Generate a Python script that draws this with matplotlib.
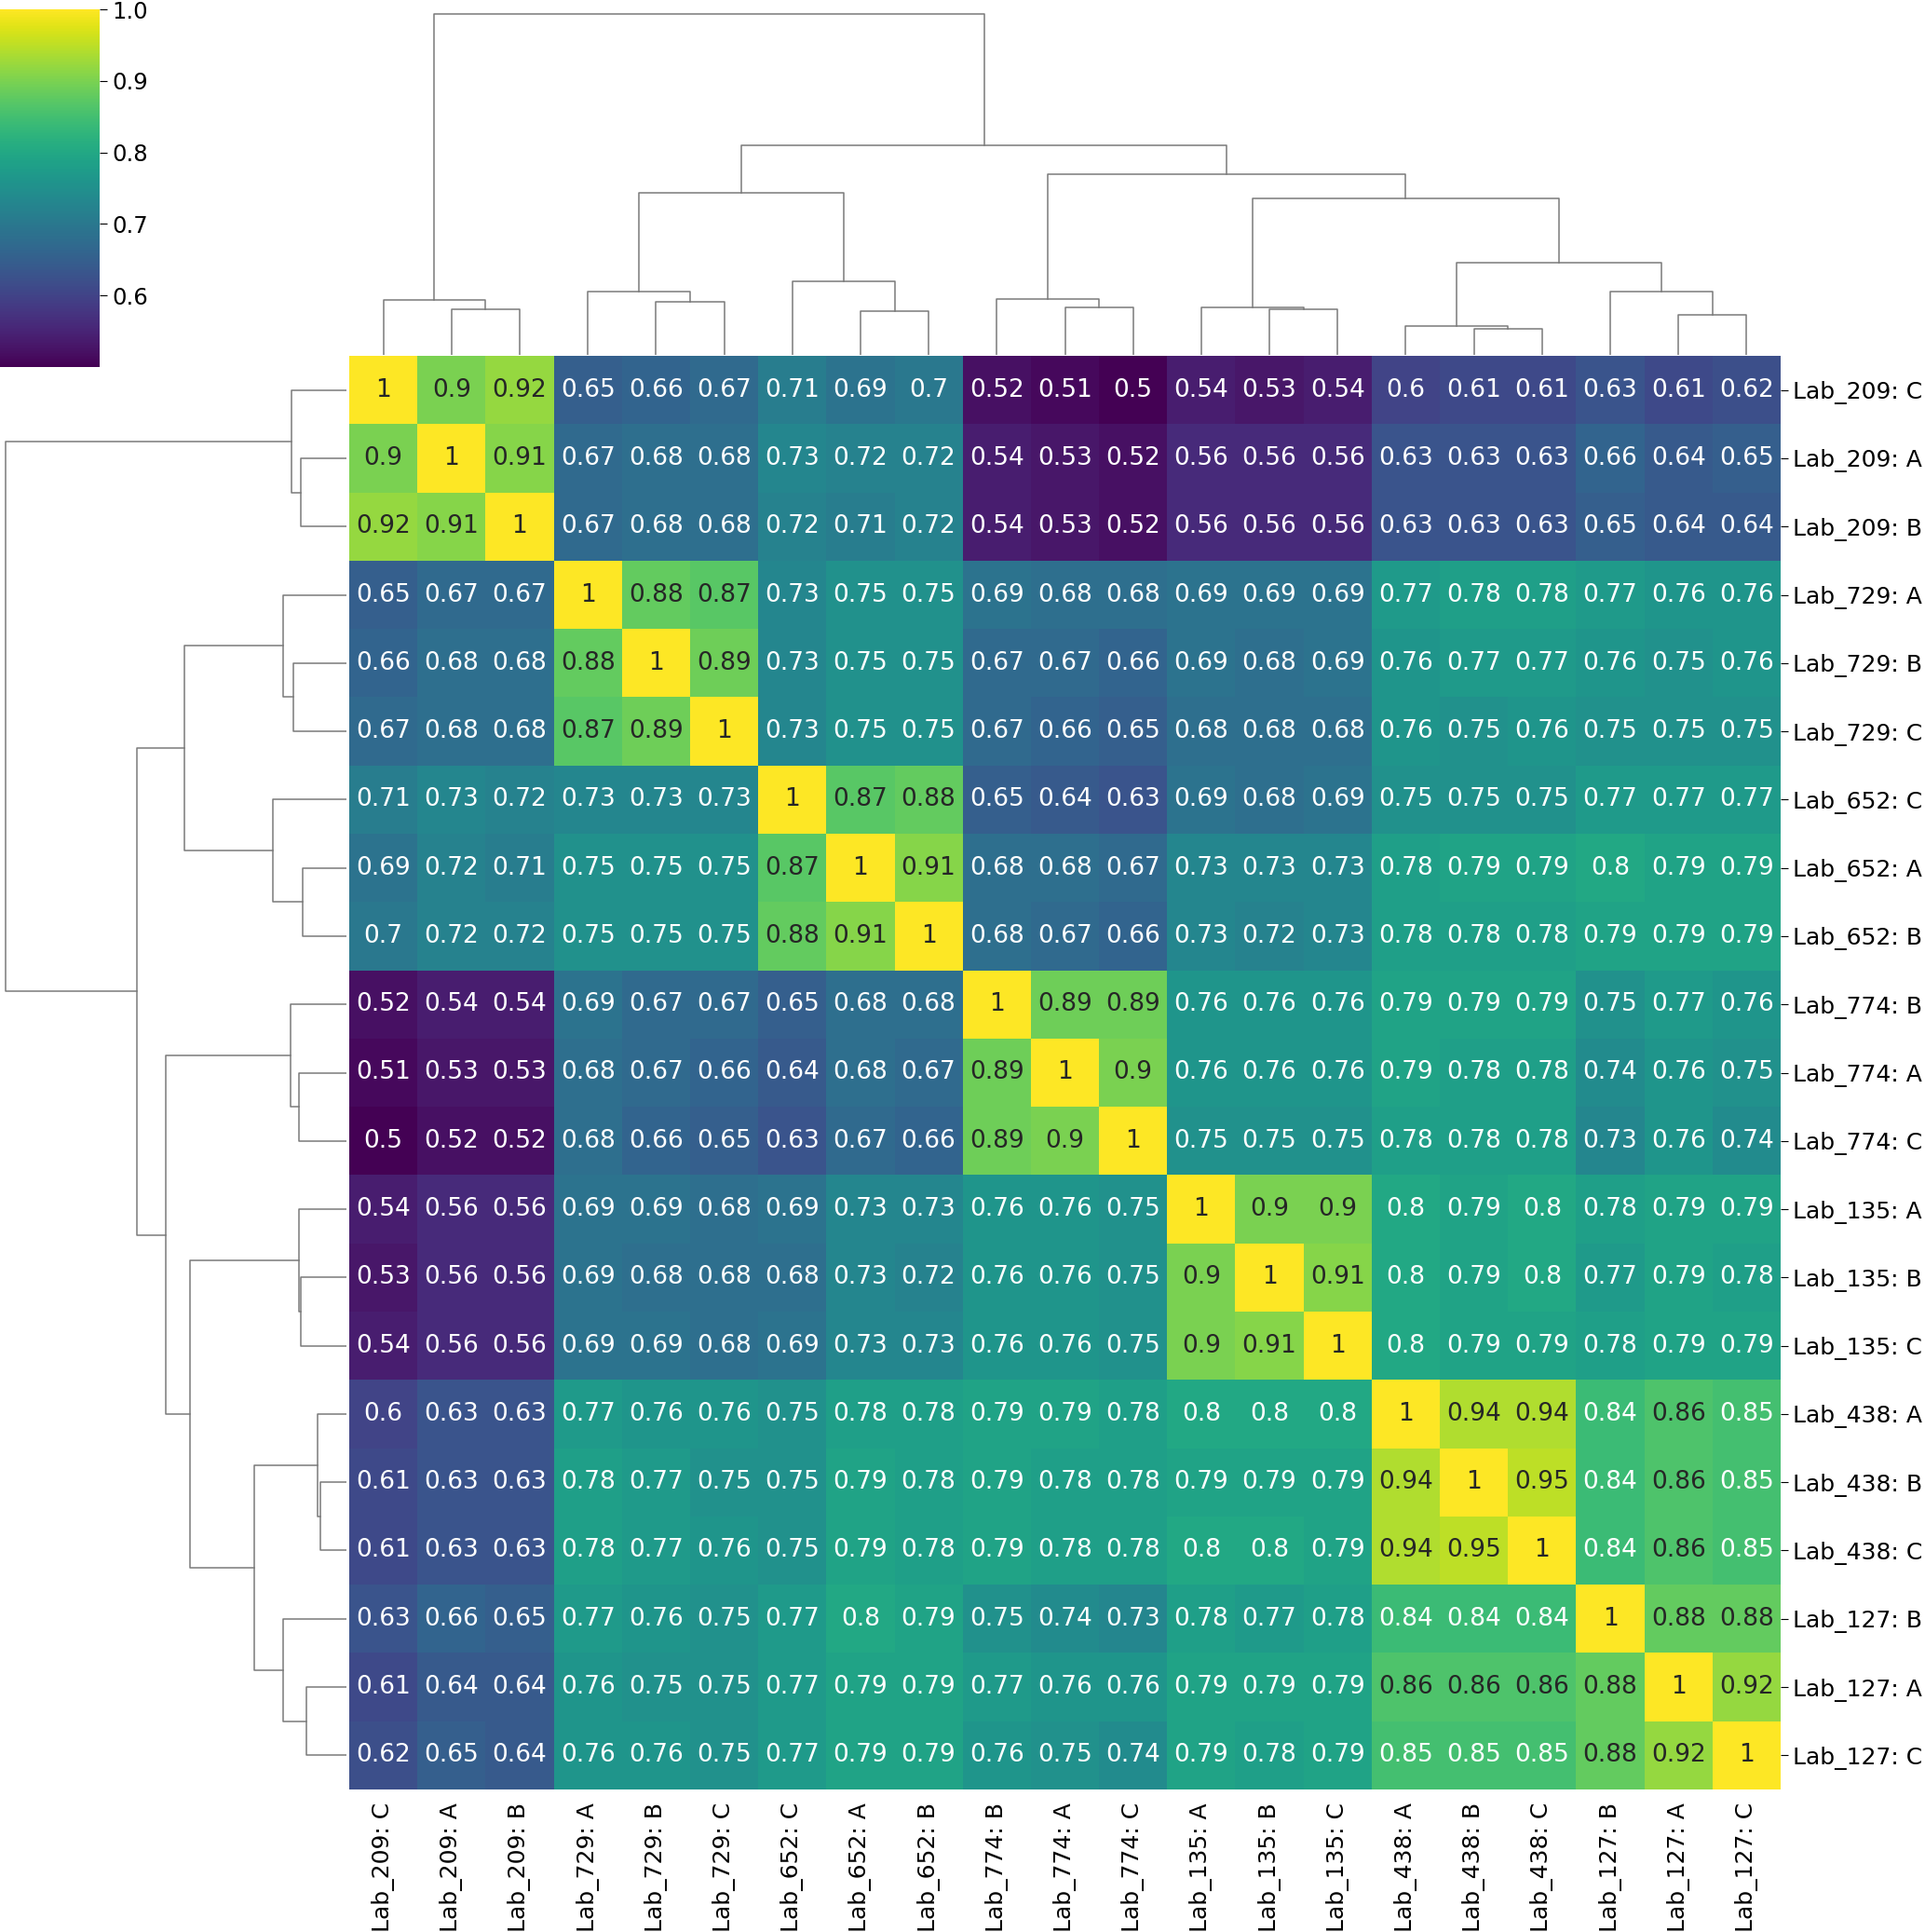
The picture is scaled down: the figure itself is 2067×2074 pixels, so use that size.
import numpy as np
import matplotlib
matplotlib.use("Agg")
import matplotlib.pyplot as plt
from matplotlib.colors import Normalize, to_rgb

# data --------------------------------------------------------------------------
labels = ["Lab_209: C", "Lab_209: A", "Lab_209: B",
          "Lab_729: A", "Lab_729: B", "Lab_729: C",
          "Lab_652: C", "Lab_652: A", "Lab_652: B",
          "Lab_774: B", "Lab_774: A", "Lab_774: C",
          "Lab_135: A", "Lab_135: B", "Lab_135: C",
          "Lab_438: A", "Lab_438: B", "Lab_438: C",
          "Lab_127: B", "Lab_127: A", "Lab_127: C"]

corr = np.array([
    [1, 0.9, 0.92, 0.65, 0.66, 0.67, 0.71, 0.69, 0.7, 0.52, 0.51, 0.5, 0.54, 0.53, 0.54, 0.6, 0.61, 0.61, 0.63, 0.61, 0.62],
    [0.9, 1, 0.91, 0.67, 0.68, 0.68, 0.73, 0.72, 0.72, 0.54, 0.53, 0.52, 0.56, 0.56, 0.56, 0.63, 0.63, 0.63, 0.66, 0.64, 0.65],
    [0.92, 0.91, 1, 0.67, 0.68, 0.68, 0.72, 0.71, 0.72, 0.54, 0.53, 0.52, 0.56, 0.56, 0.56, 0.63, 0.63, 0.63, 0.65, 0.64, 0.64],
    [0.65, 0.67, 0.67, 1, 0.88, 0.87, 0.73, 0.75, 0.75, 0.69, 0.68, 0.68, 0.69, 0.69, 0.69, 0.77, 0.78, 0.78, 0.77, 0.76, 0.76],
    [0.66, 0.68, 0.68, 0.88, 1, 0.89, 0.73, 0.75, 0.75, 0.67, 0.67, 0.66, 0.69, 0.68, 0.69, 0.76, 0.77, 0.77, 0.76, 0.75, 0.76],
    [0.67, 0.68, 0.68, 0.87, 0.89, 1, 0.73, 0.75, 0.75, 0.67, 0.66, 0.65, 0.68, 0.68, 0.68, 0.76, 0.75, 0.76, 0.75, 0.75, 0.75],
    [0.71, 0.73, 0.72, 0.73, 0.73, 0.73, 1, 0.87, 0.88, 0.65, 0.64, 0.63, 0.69, 0.68, 0.69, 0.75, 0.75, 0.75, 0.77, 0.77, 0.77],
    [0.69, 0.72, 0.71, 0.75, 0.75, 0.75, 0.87, 1, 0.91, 0.68, 0.68, 0.67, 0.73, 0.73, 0.73, 0.78, 0.79, 0.79, 0.8, 0.79, 0.79],
    [0.7, 0.72, 0.72, 0.75, 0.75, 0.75, 0.88, 0.91, 1, 0.68, 0.67, 0.66, 0.73, 0.72, 0.73, 0.78, 0.78, 0.78, 0.79, 0.79, 0.79],
    [0.52, 0.54, 0.54, 0.69, 0.67, 0.67, 0.65, 0.68, 0.68, 1, 0.89, 0.89, 0.76, 0.76, 0.76, 0.79, 0.79, 0.79, 0.75, 0.77, 0.76],
    [0.51, 0.53, 0.53, 0.68, 0.67, 0.66, 0.64, 0.68, 0.67, 0.89, 1, 0.9, 0.76, 0.76, 0.76, 0.79, 0.78, 0.78, 0.74, 0.76, 0.75],
    [0.5, 0.52, 0.52, 0.68, 0.66, 0.65, 0.63, 0.67, 0.66, 0.89, 0.9, 1, 0.75, 0.75, 0.75, 0.78, 0.78, 0.78, 0.73, 0.76, 0.74],
    [0.54, 0.56, 0.56, 0.69, 0.69, 0.68, 0.69, 0.73, 0.73, 0.76, 0.76, 0.75, 1, 0.9, 0.9, 0.8, 0.79, 0.8, 0.78, 0.79, 0.79],
    [0.53, 0.56, 0.56, 0.69, 0.68, 0.68, 0.68, 0.73, 0.72, 0.76, 0.76, 0.75, 0.9, 1, 0.91, 0.8, 0.79, 0.8, 0.77, 0.79, 0.78],
    [0.54, 0.56, 0.56, 0.69, 0.69, 0.68, 0.69, 0.73, 0.73, 0.76, 0.76, 0.75, 0.9, 0.91, 1, 0.8, 0.79, 0.79, 0.78, 0.79, 0.79],
    [0.6, 0.63, 0.63, 0.77, 0.76, 0.76, 0.75, 0.78, 0.78, 0.79, 0.79, 0.78, 0.8, 0.8, 0.8, 1, 0.94, 0.94, 0.84, 0.86, 0.85],
    [0.61, 0.63, 0.63, 0.78, 0.77, 0.75, 0.75, 0.79, 0.78, 0.79, 0.78, 0.78, 0.79, 0.79, 0.79, 0.94, 1, 0.95, 0.84, 0.86, 0.85],
    [0.61, 0.63, 0.63, 0.78, 0.77, 0.76, 0.75, 0.79, 0.78, 0.79, 0.78, 0.78, 0.8, 0.8, 0.79, 0.94, 0.95, 1, 0.84, 0.86, 0.85],
    [0.63, 0.66, 0.65, 0.77, 0.76, 0.75, 0.77, 0.8, 0.79, 0.75, 0.74, 0.73, 0.78, 0.77, 0.78, 0.84, 0.84, 0.84, 1, 0.88, 0.88],
    [0.61, 0.64, 0.64, 0.76, 0.75, 0.75, 0.77, 0.79, 0.79, 0.77, 0.76, 0.76, 0.79, 0.79, 0.79, 0.86, 0.86, 0.86, 0.88, 1, 0.92],
    [0.62, 0.65, 0.64, 0.76, 0.76, 0.75, 0.77, 0.79, 0.79, 0.76, 0.75, 0.74, 0.79, 0.78, 0.79, 0.85, 0.85, 0.85, 0.88, 0.92, 1],
])

# linkage in scipy style: [child_a, child_b, height], new clusters numbered from 21
merges = [
    [1, 2, 49.0],
    [0, 21, 59.0],
    [4, 5, 57.3],
    [3, 23, 68.7],
    [7, 8, 46.7],
    [6, 25, 79.3],
    [24, 26, 175.0],
    [10, 11, 51.3],
    [9, 28, 60.3],
    [13, 14, 49.0],
    [12, 30, 51.0],
    [16, 17, 28.3],
    [15, 32, 31.0],
    [19, 20, 43.3],
    [18, 34, 68.7],
    [33, 35, 99.0],
    [31, 36, 169.0],
    [29, 37, 194.7],
    [27, 38, 225.7],
    [22, 39, 367.3],
]

# figure layout -----------------------------------------------------------------
W, H = 2067, 2074
fig = plt.figure(figsize=(W / 100, H / 100), dpi=100)

def px_axes(x0, y0, x1, y1):
    return fig.add_axes([x0 / W, 1 - y1 / H, (x1 - x0) / W, (y1 - y0) / H])

ax_heat = px_axes(375, 382, 1912, 1921)
ax_col = px_axes(375, 0, 1912, 381)
ax_row = px_axes(0, 382, 372, 1921)
ax_cb = px_axes(0, 10, 107, 394)

n = len(labels)
cmap = plt.get_cmap("viridis")
norm = Normalize(vmin=corr.min(), vmax=corr.max())

# heatmap
mesh = ax_heat.pcolormesh(np.arange(n + 1), np.arange(n + 1), corr, cmap=cmap, norm=norm)
ax_heat.set_xlim(0, n)
ax_heat.set_ylim(n, 0)
for s in ax_heat.spines.values():
    s.set_visible(False)

def lum(c):
    rgb = np.array(to_rgb(c))
    rgb = np.where(rgb <= 0.03928, rgb / 12.92, ((rgb + 0.055) / 1.055) ** 2.4)
    return 0.2126 * rgb[0] + 0.7152 * rgb[1] + 0.0722 * rgb[2]

for i in range(n):
    for j in range(n):
        v = corr[i, j]
        tc = ".15" if lum(cmap(norm(v))) > 0.408 else "w"
        ax_heat.text(j + 0.5, i + 0.5, f"{v:.2g}", ha="center", va="center",
                     color=tc, fontsize=19)

ax_heat.set_xticks(np.arange(n) + 0.5)
ax_heat.set_xticklabels(labels, rotation=90, fontsize=18)
ax_heat.set_yticks(np.arange(n) + 0.5)
ax_heat.set_yticklabels(labels, fontsize=18)
ax_heat.yaxis.tick_right()
ax_heat.tick_params(axis="x", length=0, pad=10)
ax_heat.tick_params(axis="y", length=5.5, width=0.8, pad=3.6)

# dendrograms
pos = {i: i + 0.5 for i in range(n)}
hgt = {i: 0.0 for i in range(n)}
segs = []
for k, (a, b, h) in enumerate(merges):
    a, b = int(a), int(b)
    segs.append(([pos[a], pos[a], pos[b], pos[b]], [hgt[a], h, h, hgt[b]]))
    pos[n + k] = (pos[a] + pos[b]) / 2
    hgt[n + k] = h

hmax = max(m[2] for m in merges)
lc = "#7a7a7a"
for xs, hs in segs:
    ax_col.plot(xs, hs, color=lc, lw=1.1)
    ax_row.plot(hs, xs, color=lc, lw=1.1)
ax_col.set_xlim(0, n)
ax_col.set_ylim(0, hmax * 381 / 366)
ax_row.set_ylim(n, 0)
ax_row.set_xlim(hmax * 372 / 366, 0)
for a in (ax_col, ax_row):
    a.set_axis_off()

# colorbar
cb = fig.colorbar(mesh, cax=ax_cb, ticks=[0.6, 0.7, 0.8, 0.9, 1.0])
cb.outline.set_visible(False)
ax_cb.tick_params(labelsize=17.5, length=5.5, width=0.8, pad=4.3)

fig.savefig("out.png", dpi=100)
